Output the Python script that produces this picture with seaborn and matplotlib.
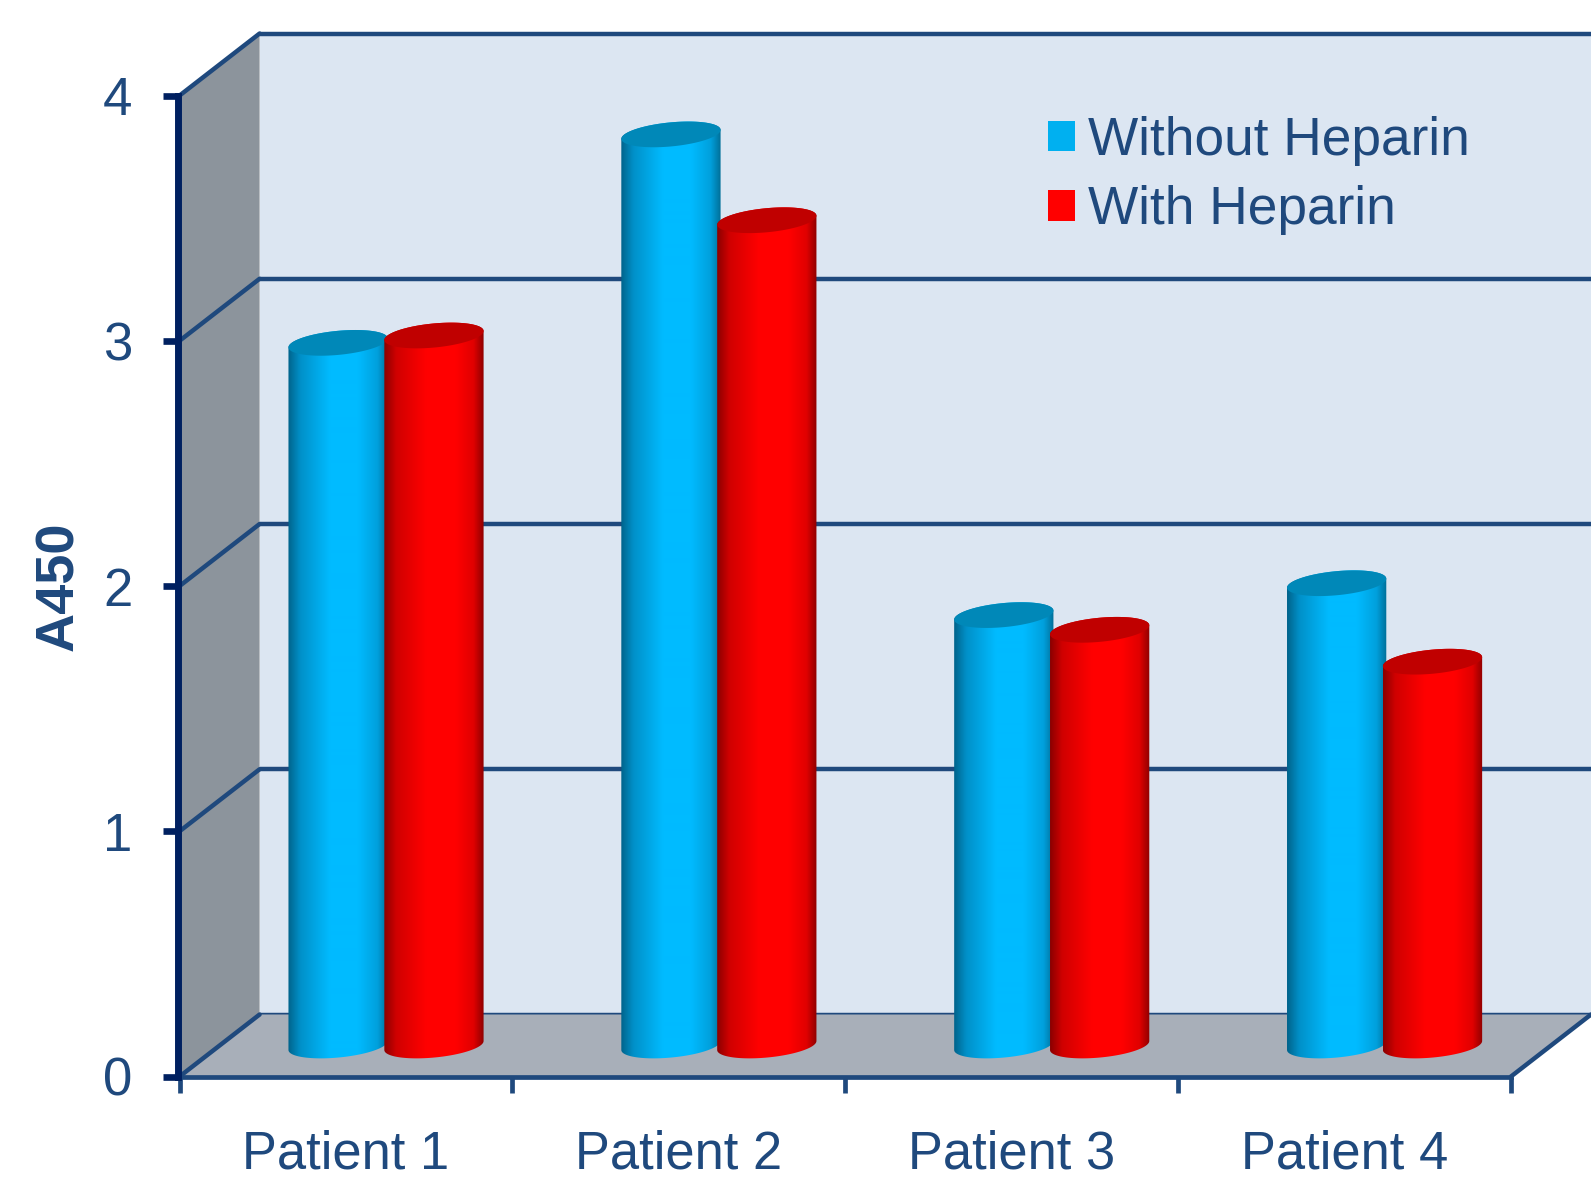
#!/usr/bin/env python3
# A450 per patient, with and without heparin - faux 3D cylinder bars
import numpy as np
import pandas as pd
import seaborn as sns
import matplotlib.pyplot as plt
from matplotlib.colors import LinearSegmentedColormap
from matplotlib.patches import Patch, Polygon

patients = ["Patient 1", "Patient 2", "Patient 3", "Patient 4"]
without_heparin = [2.865, 3.715, 1.755, 1.885]
with_heparin = [2.895, 3.365, 1.695, 1.565]
y_ticks = [0, 1, 2, 3, 4]
series_names = ["Without Heparin", "With Heparin"]

TEXT = "#1F497D"
NAVY = "#002060"
W, H = 1591, 1180

# front plane in image pixels, the back wall sits one full depth behind it
LEFT, RIGHT, BOTTOM, TOP = 179.6, 1511.0, 1076.5, 95.5
DEPTH_X, DEPTH_Y = 80.0, 62.0


def axes_at(shift):
    """Axes for the plane `shift` (0 front .. 1 back) of the box."""
    x0 = LEFT + shift * DEPTH_X
    y0 = BOTTOM - shift * DEPTH_Y
    return fig.add_axes([x0 / W, 1 - y0 / H, (RIGHT - LEFT) / W, (BOTTOM - TOP) / H])


sns.set_theme(style="white")
plt.rcParams["font.family"] = ["Liberation Sans", "DejaVu Sans"]

fig = plt.figure(figsize=(W / 100, H / 100), dpi=100)

# -------------------- back wall --------------------
back = axes_at(1.0)
back.set_zorder(1)
back.set_facecolor("#DCE6F2")
back.set_xlim(-0.5, 3.5)
back.set_ylim(0, 4)
back.set_xticks([])
back.set_yticks([])
for s in back.spines.values():
    s.set_visible(False)
for v in y_ticks:
    back.axhline(v, color=TEXT, lw=3.2, clip_on=False)

# -------------------- front plane: side wall, floor, ticks --------------------
front = axes_at(0.0)
front.set_zorder(2)
front.patch.set_alpha(0)
front.set_xlim(-0.5, 3.5)
front.set_ylim(0, 4)
dx = DEPTH_X / ((RIGHT - LEFT) / 4)
dy = DEPTH_Y / ((BOTTOM - TOP) / 4)
front.fill([-0.5, -0.5, -0.5 + dx, -0.5 + dx], [0, 4, 4 + dy, dy],
           color="#8C949C", lw=0, clip_on=False, zorder=1)
front.fill([-0.5, 3.5, 3.5 + dx, -0.5 + dx], [0, 0, dy, dy],
           color="#A8AFB9", lw=0, clip_on=False, zorder=1)
for v in y_ticks:
    front.plot([-0.5, -0.5 + dx], [v, v + dy], color=TEXT, lw=3.2, clip_on=False, zorder=2)
front.plot([3.5, 3.5 + dx], [0, dy], color=TEXT, lw=3.2, clip_on=False, zorder=2)

sns.despine(ax=front, top=True, right=True)
front.spines["left"].set_color(NAVY)
front.spines["left"].set_linewidth(5.0)
front.spines["left"].set_position(("outward", 1))
front.spines["left"].set_zorder(4)
front.spines["bottom"].set_color(TEXT)
front.spines["bottom"].set_linewidth(3.4)

front.set_yticks(y_ticks)
front.set_yticklabels([str(v) for v in y_ticks])
front.tick_params(axis="y", left=True, length=11, width=4.8, color=NAVY, pad=22,
                  labelsize=38, labelcolor=TEXT)
front.set_xticks(range(len(patients)))
front.set_xticklabels(patients)
front.set_xticks(np.arange(-0.5, 4), minor=True)
front.tick_params(axis="x", which="major", length=0, pad=38, labelsize=37.8, labelcolor=TEXT)
front.tick_params(axis="x", which="minor", bottom=True, length=11.5, width=3.4, color=TEXT)
front.set_ylabel("A450", fontsize=39, fontweight="bold", color=TEXT)
front.yaxis.set_label_coords(-0.0718, 0.5)

# -------------------- bars on the middle plane --------------------
df = pd.DataFrame({
    "patient": patients * 2,
    "a450": without_heparin + with_heparin,
    "heparin": [series_names[0]] * 4 + [series_names[1]] * 4,
})
mid = axes_at(0.5)
mid.set_zorder(3)
mid.patch.set_alpha(0)
sns.barplot(data=df, x="patient", y="a450", hue="heparin", palette=["#00B0F0", "#FF0000"],
            width=0.576, gap=-0.04, errorbar=None, legend=False, ax=mid)
mid.set_xlim(-0.5, 3.5)
mid.set_ylim(0, 4)
mid.axis("off")

blue_map = LinearSegmentedColormap.from_list(
    "blue_cyl", [(0, "#00648C"), (0.12, "#0090C8"), (0.42, "#00BBFF"), (0.7, "#00BBFF"),
                 (0.9, "#00A0DC"), (1, "#00709A")])
red_map = LinearSegmentedColormap.from_list(
    "red_cyl", [(0, "#8C0000"), (0.12, "#D00000"), (0.42, "#FF0000"), (0.72, "#FF0000"),
                (0.9, "#E00000"), (1, "#900000")])
cap_colours = ["#0088B8", "#C00000"]

px_x = (RIGHT - LEFT) / 4
px_y = (BOTTOM - TOP) / 4
B_PX = 12.0
TILT = np.radians(5.5)


def ring(cx, cy, a, t):
    # tilted ellipse, a and B_PX in pixels, returned in data units
    ex = a * np.cos(t) * np.cos(TILT) - B_PX * np.sin(t) * np.sin(TILT)
    ey = a * np.cos(t) * np.sin(TILT) + B_PX * np.sin(t) * np.cos(TILT)
    return np.column_stack([cx + ex / px_x, cy + ey / px_y])


def cylinder(bar, cmap, cap, z):
    x, w, h = bar.get_x(), bar.get_width(), bar.get_height()
    bar.set_visible(False)
    cx = x + w / 2
    a = w * px_x / 2
    t0 = np.arctan(-(B_PX / a) * np.tan(TILT))
    upper = np.linspace(t0, t0 + np.pi, 60)
    lower = np.linspace(t0 + np.pi, t0 + 2 * np.pi, 60)
    hull = np.vstack([ring(cx, h, a, upper), ring(cx, 0, a, lower)])
    outline = Polygon(hull, closed=True, facecolor="none", edgecolor="none",
                      clip_on=False, transform=mid.transData)
    mid.add_patch(outline)
    im = mid.imshow(np.linspace(0, 1, 200)[None, :], extent=(x, x + w, -0.3, h + 0.3),
                    aspect="auto", cmap=cmap, zorder=z, interpolation="bilinear")
    # the base ellipse hangs below y=0, so only clip to the cylinder outline
    im.set_clip_box(fig.bbox)
    im.set_clip_path(outline)
    mid.add_patch(Polygon(ring(cx, h, a, np.linspace(0, 2 * np.pi, 120)), closed=True,
                          facecolor=cap, edgecolor="none", clip_on=False, zorder=z + 0.1))


for i, (container, cmap) in enumerate(zip(mid.containers, [blue_map, red_map])):
    for bar in container:
        cylinder(bar, cmap, cap_colours[i], 3 + i)
mid.set_xlim(-0.5, 3.5)
mid.set_ylim(0, 4)

# -------------------- legend --------------------
handles = [Patch(facecolor="#00B0F0", edgecolor="none"), Patch(facecolor="#FF0000", edgecolor="none")]
leg = mid.legend(handles, series_names, loc="upper left", frameon=False,
                 bbox_to_anchor=(1048 / W, 1 - 116 / H), bbox_transform=fig.transFigure,
                 prop={"size": 38.3}, labelcolor=TEXT, handlelength=0.51, handleheight=0.51,
                 handletextpad=0.25, labelspacing=0.36, borderpad=0, borderaxespad=0)
leg.set_zorder(10)

fig.savefig("out.png", dpi=100)
